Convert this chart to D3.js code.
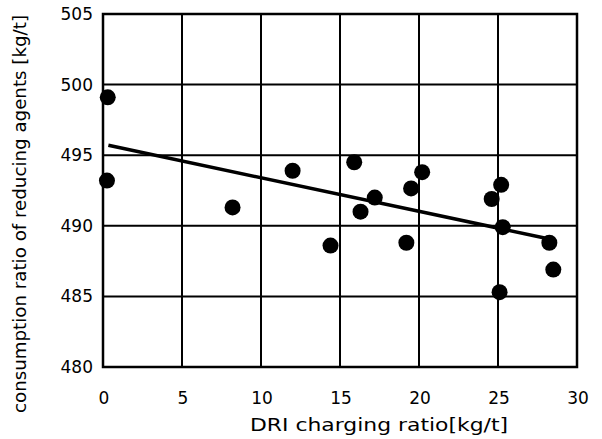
<!DOCTYPE html>
<html>
<head>
<meta charset="utf-8">
<script src="https://cdn.jsdelivr.net/npm/d3@7"></script>
<style>
  body { margin: 0; background: #fff; }
  svg { display: block; }
</style>
</head>
<body>
<script>
// DRI charging ratio vs reducing agent consumption
var driRatio = [0.3, 0.25, 8.2, 12.0, 15.9, 14.4, 17.2, 16.3, 19.5, 20.2, 19.2, 24.6, 25.2, 25.3, 25.1, 28.25, 28.5];
var consumption = [499.1, 493.2, 491.3, 493.9, 494.5, 488.6, 492.0, 491.0, 492.65, 493.8, 488.8, 491.9, 492.9, 489.9, 485.3, 488.8, 486.9];
var fitX = [0.34, 28.1];
var fitY = [495.7, 489.1];
var xTicks = [0, 5, 10, 15, 20, 25, 30];
var yTicks = [480, 485, 490, 495, 500, 505];

var width = 602, height = 439;
var svg = d3.select('body').append('svg')
    .attr('width', width)
    .attr('height', height);

var x = d3.scaleLinear().domain([0, 30]).range([103, 577]);
var y = d3.scaleLinear().domain([480, 505]).range([367, 14]);

// grid
svg.append('g').selectAll('line')
    .data(xTicks)
    .join('line')
    .attr('x1', d => x(d)).attr('x2', d => x(d))
    .attr('y1', y(505)).attr('y2', y(480))
    .attr('stroke', '#000').attr('stroke-width', 2);
svg.append('g').selectAll('line')
    .data(yTicks)
    .join('line')
    .attr('x1', x(0)).attr('x2', x(30))
    .attr('y1', d => y(d)).attr('y2', d => y(d))
    .attr('stroke', '#000').attr('stroke-width', 2);

// frame
svg.append('rect')
    .attr('x', x(0)).attr('y', y(505))
    .attr('width', x(30) - x(0)).attr('height', y(480) - y(505))
    .attr('fill', 'none').attr('stroke', '#000').attr('stroke-width', 2.5);

// tick labels
svg.append('g').selectAll('text')
    .data(xTicks)
    .join('text')
    .attr('x', d => x(d) + 1)
    .attr('y', 404)
    .attr('text-anchor', 'middle')
    .attr('font-family', 'DejaVu Sans, sans-serif')
    .attr('font-size', 17)
    .text(d => d);
svg.append('g').selectAll('text')
    .data(yTicks)
    .join('text')
    .attr('x', 93)
    .attr('y', d => y(d) + 6)
    .attr('text-anchor', 'end')
    .attr('font-family', 'DejaVu Sans, sans-serif')
    .attr('font-size', 17)
    .text(d => d);

// regression line
svg.append('line')
    .attr('x1', x(fitX[0])).attr('y1', y(fitY[0]))
    .attr('x2', x(fitX[1])).attr('y2', y(fitY[1]))
    .attr('stroke', '#000').attr('stroke-width', 3.5);

// points
svg.append('g').selectAll('circle')
    .data(driRatio)
    .join('circle')
    .attr('cx', d => x(d))
    .attr('cy', (d, i) => y(consumption[i]))
    .attr('r', 8)
    .attr('fill', '#000');

// axis titles
svg.append('text')
    .attr('x', 250).attr('y', 431)
    .attr('textLength', 258)
    .attr('lengthAdjust', 'spacingAndGlyphs')
    .attr('font-family', 'DejaVu Sans, sans-serif')
    .attr('font-size', 17)
    .text('DRI charging ratio[kg/t]');
svg.append('text')
    .attr('transform', 'translate(26,413) rotate(-90)')
    .attr('textLength', 398)
    .attr('lengthAdjust', 'spacingAndGlyphs')
    .attr('font-family', 'DejaVu Sans, sans-serif')
    .attr('font-size', 17)
    .text('consumption ratio of reducing agents [kg/t]');
</script>
</body>
</html>
